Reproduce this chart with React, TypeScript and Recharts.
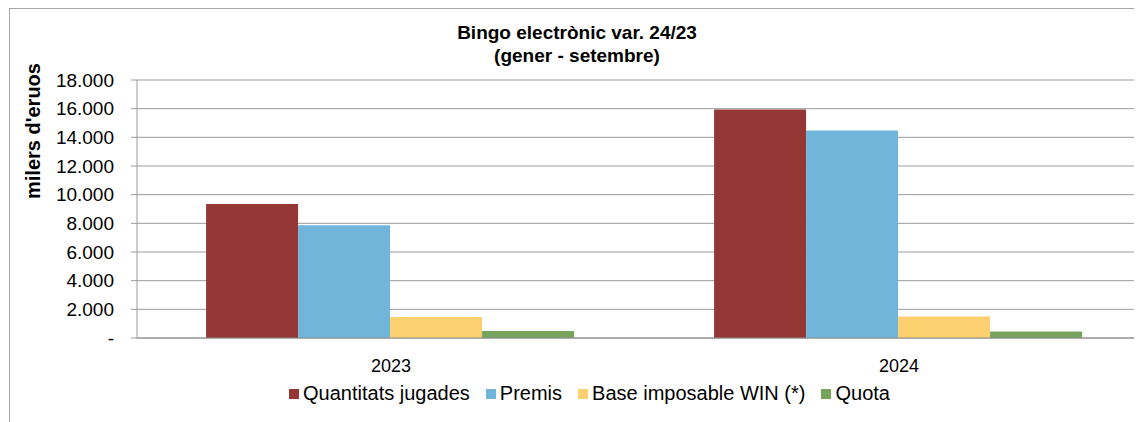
import React from 'react';
import { BarChart, Bar, XAxis, YAxis, CartesianGrid, Legend } from 'recharts';

const years = ['2023', '2024'];
const quantitats = [9350, 15950];
const premis = [7870, 14480];
const baseWin = [1460, 1500];
const quota = [480, 450];
const yTicks = [0, 2000, 4000, 6000, 8000, 10000, 12000, 14000, 16000, 18000];

const series = [
  { key: 'quantitats', name: 'Quantitats jugades', color: '#953735' },
  { key: 'premis', name: 'Premis', color: '#71b5db' },
  { key: 'base', name: 'Base imposable WIN (*)', color: '#fdd06f' },
  { key: 'quota', name: 'Quota', color: '#78a35d' },
];

const data = years.map((year, i) => ({
  year,
  quantitats: quantitats[i],
  premis: premis[i],
  base: baseWin[i],
  quota: quota[i],
}));

const font = '"Liberation Sans", Arial, sans-serif';

function fmt(v: number) {
  if (v === 0) return '-';
  return String(v).replace(/\B(?=(\d{3})+(?!\d))/g, '.');
}

function LegendContent() {
  return (
    <div
      style={{
        display: 'flex', justifyContent: 'center', marginTop: 4, marginLeft: 32,
        fontFamily: font, fontSize: 20, color: '#000',
      }}
    >
      {series.map((s) => (
        <span key={s.key} style={{ display: 'flex', alignItems: 'center', marginRight: 16 }}>
          <span style={{ width: 10, height: 10, background: s.color, marginRight: 4, display: 'inline-block' }} />
          {s.name}
        </span>
      ))}
    </div>
  );
}

export default function App() {
  return (
    <div style={{ position: 'relative', width: 1134, height: 414, overflow: 'hidden', fontFamily: font }}>
      <div
        style={{
          position: 'absolute', left: 1, top: 0, width: 1200, height: 500,
          borderLeft: '1px solid #a6a6a6', borderTop: '1px solid #a6a6a6',
        }}
      />
      <div
        style={{
          position: 'absolute', left: 269, top: 13, width: 600, textAlign: 'center',
          fontWeight: 'bold', fontSize: 19, lineHeight: '23px', color: '#000',
        }}
      >
        Bingo electrònic var. 24/23
        <br />
        (gener - setembre)
      </div>
      <div
        style={{
          position: 'absolute', left: -75, top: 112, width: 200, height: 22, lineHeight: '22px',
          textAlign: 'center', transform: 'rotate(-90deg)', fontWeight: 'bold', fontSize: 20, color: '#000',
        }}
      >
        milers d'eruos
      </div>
      <div style={{ position: 'absolute', left: 2, top: 1 }}>
        <BarChart
          width={1160}
          height={414}
          data={data}
          margin={{ top: 71, right: 17, left: 0, bottom: 15 }}
          barCategoryGap="13.6%"
          barGap={0}
        >
          <CartesianGrid vertical={false} stroke="#9c9c9c" />
          <XAxis
            xAxisId="sep"
            type="number"
            domain={[0, 2]}
            ticks={[0, 1, 2]}
            height={0}
            axisLine={false}
            tickSize={8}
            tickFormatter={() => ''}
            tickLine={{ stroke: '#9c9c9c' }}
          />
          <XAxis
            xAxisId="cat"
            dataKey="year"
            height={40}
            axisLine={{ stroke: '#8c8c8c' }}
            tickLine={false}
            tickSize={0}
            tickMargin={21}
            tick={{ fill: '#000', fontSize: 18, fontFamily: font }}
          />
          <YAxis
            width={127}
            domain={[0, 18000]}
            ticks={yTicks}
            tickFormatter={fmt}
            axisLine={{ stroke: '#9c9c9c' }}
            tickLine={{ stroke: '#9c9c9c' }}
            tickSize={6}
            tickMargin={17}
            tick={{ fill: '#000', fontSize: 19, fontFamily: font }}
          />
          <Legend
            verticalAlign="bottom"
            content={<LegendContent />}
            wrapperStyle={{ height: 30 }}
          />
          {series.map((s) => (
            <Bar
              key={s.key}
              xAxisId="cat"
              dataKey={s.key}
              name={s.name}
              fill={s.color}
              isAnimationActive={false}
            />
          ))}
        </BarChart>
      </div>
    </div>
  );
}
